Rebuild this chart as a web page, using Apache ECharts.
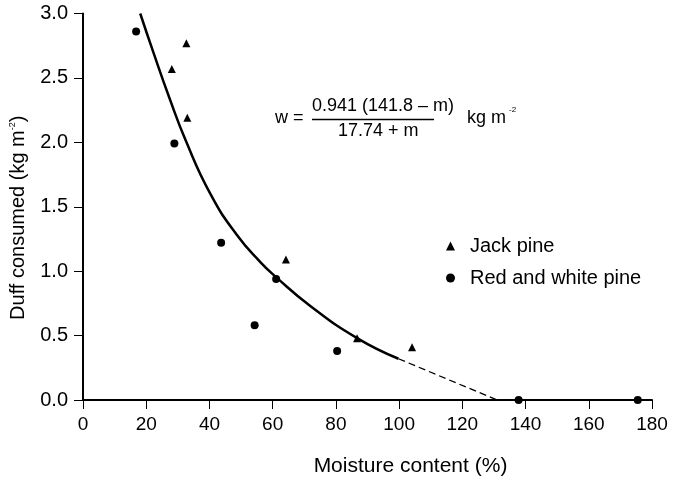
<!DOCTYPE html>
<html>
<head>
<meta charset="utf-8">
<script src="https://cdn.jsdelivr.net/npm/echarts@6/dist/echarts.min.js"></script>
<style>
html,body{margin:0;padding:0;background:#fff;}
#chart{width:679px;height:484px;}
</style>
</head>
<body>
<div id="chart"></div>
<script>
// Data
const jackPineX = [28.1, 32.7, 33.0, 64.2, 86.7, 104.1];
const jackPineY = [2.57, 2.77, 2.19, 1.09, 0.48, 0.41];
const redWhiteX = [16.8, 28.9, 43.7, 54.3, 61.1, 80.4, 137.8, 175.5];
const redWhiteY = [2.86, 1.99, 1.22, 0.58, 0.94, 0.38, 0.0, 0.0];
// fitted curve (solid) and its extrapolation (dashed)
const fitX = [18.1, 22.1, 27.4, 32.4, 40.3, 48.7, 56.1, 60.8, 71.9, 86.7, 99.8];
const fitY = [3.0, 2.71, 2.34, 2.02, 1.60, 1.28, 1.07, 0.96, 0.73, 0.48, 0.32];
const extX = [99.8, 131.0];
const extY = [0.32, 0.0];
const xTicks = [0, 20, 40, 60, 80, 100, 120, 140, 160, 180];
const yTicks = [0.0, 0.5, 1.0, 1.5, 2.0, 2.5, 3.0];

const zip = (xs, ys) => xs.map((x, i) => [x, ys[i]]);
const FONT = 'Liberation Sans, Arial, Helvetica, sans-serif';

const chart = echarts.init(document.getElementById('chart'), null, {renderer: 'canvas'});
chart.setOption({
  backgroundColor: '#fff',
  animation: false,
  textStyle: {fontFamily: FONT, color: '#000'},
  grid: {left: 83, right: 27, top: 13.5, bottom: 84, containLabel: false, outerBoundsMode: 'none'},
  xAxis: {
    type: 'value',
    min: xTicks[0], max: xTicks[xTicks.length - 1], interval: 20,
    splitLine: {show: false},
    axisLine: {show: true, onZero: false, lineStyle: {color: '#000', width: 2}},
    axisTick: {show: true, length: 9, lineStyle: {color: '#000', width: 1}},
    axisLabel: {color: '#000', fontSize: 19, margin: 15, fontFamily: FONT},
    name: 'Moisture content (%)',
    nameLocation: 'middle',
    nameGap: 56,
    nameTextStyle: {color: '#000', fontSize: 21, fontFamily: FONT, padding: [0, 0, 0, 86]}
  },
  yAxis: {
    type: 'value',
    min: yTicks[0], max: yTicks[yTicks.length - 1], interval: 0.5,
    splitLine: {show: false},
    axisLine: {show: true, onZero: false, lineStyle: {color: '#000', width: 2}},
    axisTick: {show: true, length: 9, lineStyle: {color: '#000', width: 1}},
    axisLabel: {color: '#000', fontSize: 20, margin: 15, fontFamily: FONT,
      formatter: v => v.toFixed(1)},
    name: 'Duff consumed (kg m{sup|-2})',
    nameLocation: 'middle',
    nameRotate: 90,
    nameGap: 55,
    nameTextStyle: {color: '#000', fontSize: 20, fontFamily: FONT, padding: [0, 22, 0, 0],
      rich: {sup: {fontSize: 9, fontFamily: FONT, color: '#000', verticalAlign: 'top', padding: [0, 0, 10, 0]}}}
  },
  legend: {
    orient: 'vertical',
    left: 441, top: 231,
    itemWidth: 9, itemHeight: 9,
    itemGap: 12,
    textStyle: {fontSize: 20, lineHeight: 20, color: '#000', fontFamily: FONT, padding: [0, 0, 0, 10]},
    data: ['Jack pine', 'Red and white pine']
  },
  series: [
    {
      name: 'Fit', type: 'line', data: zip(fitX, fitY), smooth: 0.5,
      showSymbol: false, symbol: 'none', silent: true,
      lineStyle: {color: '#000', width: 2.5}, z: 3
    },
    {
      name: 'Extrapolation', type: 'line', data: zip(extX, extY),
      showSymbol: false, symbol: 'none', silent: true,
      lineStyle: {color: '#000', width: 1.3, type: [7, 4]}, z: 3
    },
    {
      name: 'Jack pine', type: 'scatter', data: zip(jackPineX, jackPineY),
      symbol: 'triangle', symbolSize: 8, itemStyle: {color: '#000', opacity: 1}, z: 4
    },
    {
      name: 'Red and white pine', type: 'scatter', data: zip(redWhiteX, redWhiteY),
      symbol: 'circle', symbolSize: 8, itemStyle: {color: '#000', opacity: 1}, z: 4
    }
  ],
  graphic: [
    {type: 'text', x: 275, y: 118, style: {text: 'w =', font: '18px ' + FONT, fill: '#000', verticalAlign: 'middle'}},
    {type: 'text', x: 312, y: 106, style: {text: '0.941 (141.8 \u2013 m)', font: '18px ' + FONT, fill: '#000', verticalAlign: 'middle'}},
    {type: 'line', shape: {x1: 312, y1: 119.5, x2: 434, y2: 119.5}, style: {stroke: '#000', lineWidth: 1.5}},
    {type: 'text', x: 338, y: 131.5, style: {text: '17.74 + m', font: '18px ' + FONT, fill: '#000', verticalAlign: 'middle'}},
    {type: 'text', x: 467, y: 118, style: {text: 'kg m', font: '18px ' + FONT, fill: '#000', verticalAlign: 'middle'}},
    {type: 'text', x: 509, y: 110, style: {text: '-2', font: '8px ' + FONT, fill: '#000', verticalAlign: 'middle'}}
  ]
});
</script>
</body>
</html>
